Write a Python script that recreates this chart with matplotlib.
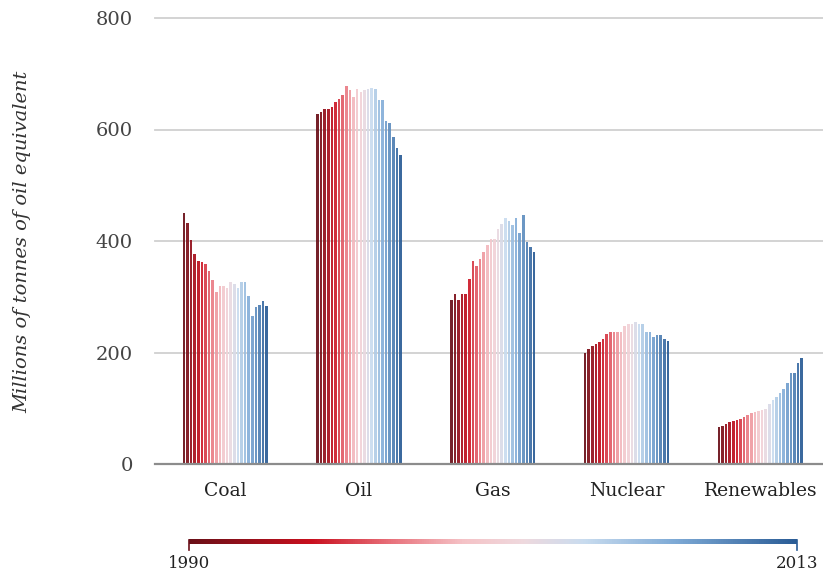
import numpy as np
import matplotlib
matplotlib.use("Agg")
import matplotlib.pyplot as plt
from matplotlib.colors import LinearSegmentedColormap
from matplotlib.lines import Line2D

years = list(range(1990, 2014))
fuels = ["Coal", "Oil", "Gas", "Nuclear", "Renewables"]

coal = [451, 432, 401, 376, 365, 362, 358, 347, 330, 308, 319, 319,
        316, 326, 323, 316, 326, 326, 301, 265, 281, 285, 292, 283]
oil = [628, 631, 636, 637, 641, 649, 655, 662, 678, 670, 659, 672,
       667, 671, 673, 675, 672, 653, 653, 615, 611, 586, 566, 554]
gas = [295, 305, 295, 305, 305, 332, 365, 356, 367, 381, 392, 403,
       403, 421, 430, 441, 436, 429, 441, 414, 447, 399, 390, 381]
nuclear = [199, 206, 212, 216, 218, 224, 234, 237, 237, 237, 237, 248,
           251, 252, 255, 251, 251, 237, 237, 227, 231, 231, 225, 221]
renewables = [66, 68, 72, 75, 77, 79, 81, 85, 88, 92, 93, 95,
              96, 99, 108, 115, 121, 128, 135, 146, 164, 164, 181, 191]

series = [coal, oil, gas, nuclear, renewables]

# red -> pink -> light blue -> blue, like the legend bar
cmap = LinearSegmentedColormap.from_list("years", [
    (0.0, "#6a0f18"), (0.2, "#c90f1e"), (0.33, "#e8707a"),
    (0.45, "#f5c2c6"), (0.55, "#efd9de"), (0.65, "#c9dcef"),
    (0.8, "#7eaad6"), (1.0, "#2a5c96")])

fig = plt.figure(figsize=(8.23, 5.81), dpi=100)
ax = fig.add_axes([155 / 823, 1 - 464 / 581, 668 / 823, 446 / 581])

pitch = 37.15
for i, vals in enumerate(series):
    x = i * pitch + np.arange(len(years))
    colors = [cmap(j / (len(years) - 1)) for j in range(len(years))]
    ax.bar(x, vals, width=0.72, color=colors, linewidth=0, alpha=0.92, zorder=3)

ax.set_xlim(-8, 177.5)
ax.set_ylim(0, 800)
ax.set_yticks([0, 200, 400, 600, 800])
for y in [200, 400, 600, 800]:
    ax.axhline(y, color="#d0d0d0", linewidth=1.3, zorder=1, clip_on=False)
ax.axhline(0, color="#8c8c8c", linewidth=1.6, zorder=4, clip_on=False)

for s in ax.spines.values():
    s.set_visible(False)
ax.tick_params(axis="y", length=0, pad=16, labelsize=14, labelcolor="#444444")
for lab in ax.get_yticklabels():
    lab.set_fontfamily("DejaVu Serif")

centers = [i * pitch + 11.5 for i in range(len(fuels))]
ax.set_xticks(centers)
ax.set_xticklabels(fuels, fontfamily="DejaVu Serif", fontsize=13.5, color="#222222")
ax.tick_params(axis="x", length=0, pad=13)

fig.text(22 / 823, 1 - 242 / 581, "Millions of tonnes of oil equivalent",
         rotation=90, ha="center", va="center", fontfamily="DejaVu Serif",
         style="italic", fontsize=14, color="#333333")

# year legend bar
x0, x1 = 189, 797
cax = fig.add_axes([x0 / 823, 1 - 544 / 581, (x1 - x0) / 823, 5 / 581])
grad = np.linspace(0, 1, 512).reshape(1, -1)
cax.imshow(grad, aspect="auto", cmap=cmap)
cax.axis("off")
for px, c in [(x0, cmap(0.0)), (x1, cmap(1.0))]:
    fig.add_artist(Line2D([px / 823, px / 823], [1 - 540 / 581, 1 - 550 / 581],
                          color=c, linewidth=1.2, transform=fig.transFigure))
fig.text(x0 / 823, 1 - 563 / 581, str(years[0]), ha="center", va="center",
         fontfamily="DejaVu Serif", fontsize=12, color="#222222")
fig.text(x1 / 823, 1 - 563 / 581, str(years[-1]), ha="center", va="center",
         fontfamily="DejaVu Serif", fontsize=12, color="#222222")

fig.savefig("out.png", dpi=100)
